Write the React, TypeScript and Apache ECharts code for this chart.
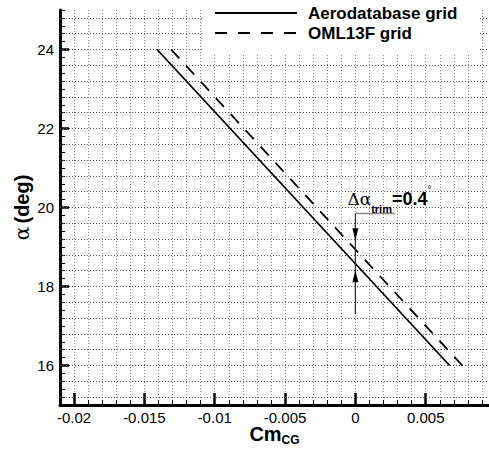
import React, { useEffect, useRef } from 'react';
import * as echarts from 'echarts';

// ---- data ----
const aeroCm = [-0.0141, 0.0067];
const aeroAlpha = [24, 16];
const omlCm = [-0.0131, 0.0076];
const omlAlpha = [24, 16];

const xTickValues = [-0.02, -0.015, -0.01, -0.005, 0, 0.005];
const xTickLabels = ['-0.02', '-0.015', '-0.01', '-0.005', '0', '0.005'];
const yTickValues = [16, 18, 20, 22, 24];
const yTickLabels = ['16', '18', '20', '22', '24'];
const yGridValues = [
  15.2, 15.6, 16, 16.4, 16.8, 17.2, 17.6, 18, 18.4, 18.8, 19.2, 19.6, 20,
  20.4, 20.8, 21.2, 21.6, 22, 22.4, 22.8, 23.2, 23.6, 24, 24.4, 24.8,
];
const legendNames = ['Aerodatabase grid', 'OML13F grid'];

// annotation (data coordinates)
const annotCm = 0;
const annotLeaderEndCm = 0.0028;
const annotTopAlpha = 19.85;
const annotBottomAlpha = 17.3;
const annotDownTipAlpha = 19.17;
const annotUpTipAlpha = 18.41;

const FONT = "'Liberation Sans', Arial, Helvetica, sans-serif";
const SERIF = "'DejaVu Serif', 'Liberation Serif', serif";

const fmt = (vals: number[], labels: string[]) => (v: number) => {
  const i = vals.findIndex((t) => Math.abs(t - v) < 1e-9);
  return i >= 0 ? labels[i] : '';
};

export default function App() {
  const ref = useRef<HTMLDivElement>(null);
  useEffect(() => {
    if (!ref.current) return;
    const chart = echarts.init(ref.current, undefined, { renderer: 'svg' });
    const option: any = {
      animation: false,
      backgroundColor: '#fff',
      grid: { left: 60, right: 0, top: 10, bottom: 45, containLabel: false, outerBoundsMode: 'none' },
      xAxis: [
        {
          type: 'value',
          position: 'bottom',
          min: -0.021,
          max: 0.0095,
          axisLine: { show: true, onZero: false, lineStyle: { color: '#000', width: 3 } },
          axisTick: {
            show: true,
            inside: true,
            length: 12,
            customValues: xTickValues,
            lineStyle: { color: '#000', width: 2.5 },
          },
          axisLabel: {
            show: true,
            customValues: xTickValues,
            formatter: fmt(xTickValues, xTickLabels),
            color: '#000',
            fontSize: 15,
            fontFamily: FONT,
            margin: 5,
          },
          splitLine: { show: false },
          name: '{m|Cm}{s|CG}',
          nameLocation: 'middle',
          nameGap: 17,
          nameMoveOverlap: false,
          nameTextStyle: {
            rich: {
              m: { fontSize: 20, fontWeight: 'bold', fontFamily: FONT, color: '#000', lineHeight: 24, verticalAlign: 'middle' },
              s: { fontSize: 12, fontWeight: 'bold', fontFamily: FONT, color: '#000', lineHeight: 8, verticalAlign: 'bottom' },
            },
          },
        },
        {
          type: 'value',
          position: 'bottom',
          min: -0.021,
          max: 0.0095,
          interval: 0.001,
          axisLine: { show: false, onZero: false },
          axisTick: { show: true, inside: true, length: 5, lineStyle: { color: '#000', width: 1 } },
          axisLabel: { show: false },
          splitLine: { show: true, lineStyle: { color: '#888', width: 1, type: [1, 2] } },
        },
      ],
      yAxis: [
        {
          type: 'value',
          position: 'left',
          min: 15,
          max: 25,
          axisLine: { show: true, onZero: false, lineStyle: { color: '#000', width: 3 } },
          axisTick: {
            show: true,
            inside: true,
            length: 9,
            customValues: yTickValues,
            lineStyle: { color: '#000', width: 2.5 },
          },
          axisLabel: {
            show: true,
            customValues: yTickValues,
            formatter: fmt(yTickValues, yTickLabels),
            color: '#000',
            fontSize: 15,
            fontFamily: FONT,
            margin: 6,
          },
          splitLine: { show: false },
          name: '{a|α} {b|(deg)}',
          nameLocation: 'middle',
          nameGap: 28,
          nameMoveOverlap: false,
          nameTextStyle: {
            rich: {
              a: { fontSize: 20, fontFamily: SERIF, color: '#000' },
              b: { fontSize: 20, fontWeight: 'bold', fontFamily: FONT, color: '#000' },
            },
          },
        },
        {
          type: 'value',
          position: 'left',
          min: 15,
          max: 25,
          interval: 0.2,
          axisLine: { show: false, onZero: false },
          axisTick: { show: true, inside: true, length: 5, lineStyle: { color: '#000', width: 1 } },
          axisLabel: { show: false },
          splitLine: { show: false },
        },
      ],
      series: [
        {
          name: legendNames[0],
          type: 'line',
          data: aeroCm.map((x, i) => [x, aeroAlpha[i]]),
          symbol: 'none',
          silent: true,
          z: 5,
          lineStyle: { color: '#000', width: 1.8 },
          markLine: {
            silent: true,
            symbol: ['none', 'none'],
            label: { show: false },
            emphasis: { disabled: true },
            lineStyle: { color: '#555', width: 1, type: [1, 2] },
            data: yGridValues.map((v) => ({ yAxis: v })),
          },
        },
        {
          name: legendNames[1],
          type: 'line',
          data: omlCm.map((x, i) => [x, omlAlpha[i]]),
          symbol: 'none',
          silent: true,
          z: 5,
          lineStyle: { color: '#000', width: 1.8, type: [12, 10] },
        },
      ],
    };
    chart.setOption(option);

    const p = (x: number, y: number) => chart.convertToPixel({ seriesIndex: 0 }, [x, y]) as number[];
    const top = p(annotCm, annotTopAlpha);
    const leaderEnd = p(annotLeaderEndCm, annotTopAlpha);
    const bottom = p(annotCm, annotBottomAlpha);
    const down = p(annotCm, annotDownTipAlpha);
    const up = p(annotCm, annotUpTipAlpha);

    chart.setOption({
      graphic: [
        // legend
        { type: 'rect', shape: { x: 203, y: 0, width: 275, height: 54 }, style: { fill: '#fff' }, z: 10 },
        { type: 'line', shape: { x1: 215, y1: 13, x2: 297, y2: 13 }, style: { stroke: '#000', lineWidth: 2 }, z: 11 },
        { type: 'line', shape: { x1: 215, y1: 33, x2: 297, y2: 33 }, style: { stroke: '#000', lineWidth: 2, lineDash: [12, 11] }, z: 11 },
        {
          type: 'text', x: 308, y: 13, z: 11,
          style: { text: legendNames[0], fontSize: 17, fontWeight: 'bold', fontFamily: FONT, fill: '#000', verticalAlign: 'middle' },
        },
        {
          type: 'text', x: 308, y: 33, z: 11,
          style: { text: legendNames[1], fontSize: 17, fontWeight: 'bold', fontFamily: FONT, fill: '#000', verticalAlign: 'middle' },
        },
        // annotation
        { type: 'line', shape: { x1: top[0], y1: top[1], x2: leaderEnd[0], y2: leaderEnd[1] }, style: { stroke: '#888', lineWidth: 1.5 }, z: 12 },
        { type: 'line', shape: { x1: top[0], y1: top[1], x2: bottom[0], y2: bottom[1] }, style: { stroke: '#333', lineWidth: 1.3 }, z: 12 },
        {
          type: 'polygon', z: 12,
          shape: { points: [[down[0] - 3, down[1] - 12], [down[0] + 3, down[1] - 12], [down[0], down[1]]] },
          style: { fill: '#000' },
        },
        {
          type: 'polygon', z: 12,
          shape: { points: [[up[0] - 3, up[1] + 12], [up[0] + 3, up[1] + 12], [up[0], up[1]]] },
          style: { fill: '#000' },
        },
        {
          type: 'text', x: top[0] - 8, y: top[1] - 14, z: 12,
          style: {
            text: '{g|Δα}{s|trim}{b|=0.4}{u|°}',
            verticalAlign: 'middle',
            rich: {
              g: { fontSize: 17, fontFamily: SERIF, fill: '#000', lineHeight: 30, verticalAlign: 'middle' },
              s: { fontSize: 11, fontWeight: 'bold', fontFamily: FONT, fill: '#000', lineHeight: 10, verticalAlign: 'bottom' },
              b: { fontSize: 18, fontWeight: 'bold', fontFamily: FONT, fill: '#000', lineHeight: 30, verticalAlign: 'middle' },
              u: { fontSize: 10, fontFamily: FONT, fill: '#000', lineHeight: 10, verticalAlign: 'top' },
            },
          },
        },
      ],
    });

    return () => chart.dispose();
  }, []);
  return <div ref={ref} style={{ position: 'absolute', left: 0, top: 0, width: 489, height: 450 }} />;
}
